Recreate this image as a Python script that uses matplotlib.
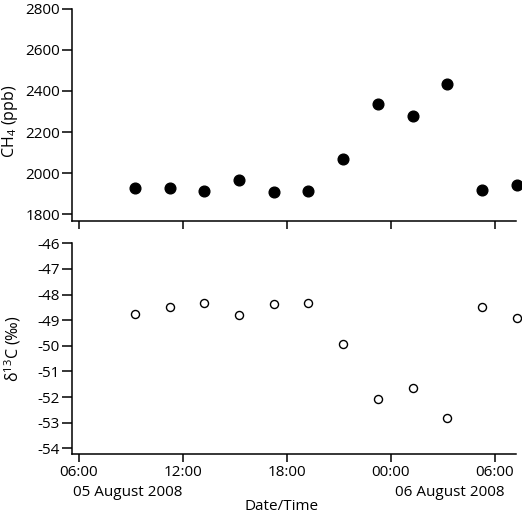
import matplotlib
matplotlib.use("Agg")
import matplotlib.pyplot as plt
import matplotlib.dates as mdates
import pandas as pd

# sample times (every 2 h), CH4 mixing ratio and delta13C
times = ["2008-08-05 09:15", "2008-08-05 11:15", "2008-08-05 13:15",
         "2008-08-05 15:15", "2008-08-05 17:15", "2008-08-05 19:15",
         "2008-08-05 21:15", "2008-08-05 23:15", "2008-08-06 01:15",
         "2008-08-06 03:15", "2008-08-06 05:15", "2008-08-06 07:15"]
ch4 = [1928, 1928, 1913, 1965, 1907, 1913, 2068, 2339, 2276, 2436, 1919, 1944]
d13c = [-48.74, -48.48, -48.33, -48.78, -48.36, -48.33,
        -49.91, -52.09, -51.65, -52.80, -48.47, -48.92]

ch4_ticks = [1800, 2000, 2200, 2400, 2600, 2800]
d13c_ticks = [-46, -47, -48, -49, -50, -51, -52, -53, -54]

t = pd.to_datetime(times)
xmin = pd.Timestamp("2008-08-05 05:38")
xmax = pd.Timestamp("2008-08-06 07:13")

plt.rcParams['font.family'] = ['Open Sans', 'DejaVu Sans']
plt.rcParams['font.size'] = 11
plt.rcParams['axes.linewidth'] = 1.1
plt.rcParams['mathtext.fontset'] = 'custom'
plt.rcParams['mathtext.rm'] = 'Open Sans'

fig = plt.figure(figsize=(5.22, 5.13), dpi=100)
ax1 = fig.add_axes([0.1385, 0.5698, 0.85, 0.4132])
ax2 = fig.add_axes([0.1385, 0.1156, 0.85, 0.4101])

ax1.plot(t, ch4, 'o', color='black', markersize=7.7, clip_on=False)
ax2.plot(t, d13c, 'o', mfc='white', mec='black', mew=1.0, markersize=5.8,
         clip_on=False)

for ax in (ax1, ax2):
    ax.spines['top'].set_visible(False)
    ax.spines['right'].set_visible(False)
    ax.set_xlim(xmin, xmax)
    ax.xaxis.set_major_locator(mdates.HourLocator(byhour=[0, 6, 12, 18]))
    ax.xaxis.set_major_formatter(mdates.DateFormatter('%H:%M'))
    ax.tick_params(axis='x', length=6, width=1.1, pad=2)
    ax.tick_params(axis='y', length=7.5, width=1.1, pad=1.5)

ax1.set_ylim(1769, 2800)
ax1.set_yticks(ch4_ticks)
ax1.tick_params(axis='x', labelbottom=False)
ax1.set_ylabel('CH$_\\mathrm{4}$ (ppb)', fontsize=11.5)
ax1.yaxis.set_label_coords(-0.118, 0.47)

ax2.set_ylim(-54.21, -46)
ax2.set_yticks(d13c_ticks)
ax2.set_yticklabels([str(v) for v in d13c_ticks])
ax2.set_ylabel('δ$^\\mathrm{13}$C (‰)', fontsize=11.5)
ax2.yaxis.set_label_coords(-0.11, 0.5)

fig.text(128 / 522, 1 - 493 / 513, '05 August 2008', ha='center', va='center')
fig.text(450 / 522, 1 - 493 / 513, '06 August 2008', ha='center', va='center')
fig.text(282 / 522, 1 - 506 / 513, 'Date/Time', ha='center', va='center')

fig.savefig('out.png', dpi=100)
